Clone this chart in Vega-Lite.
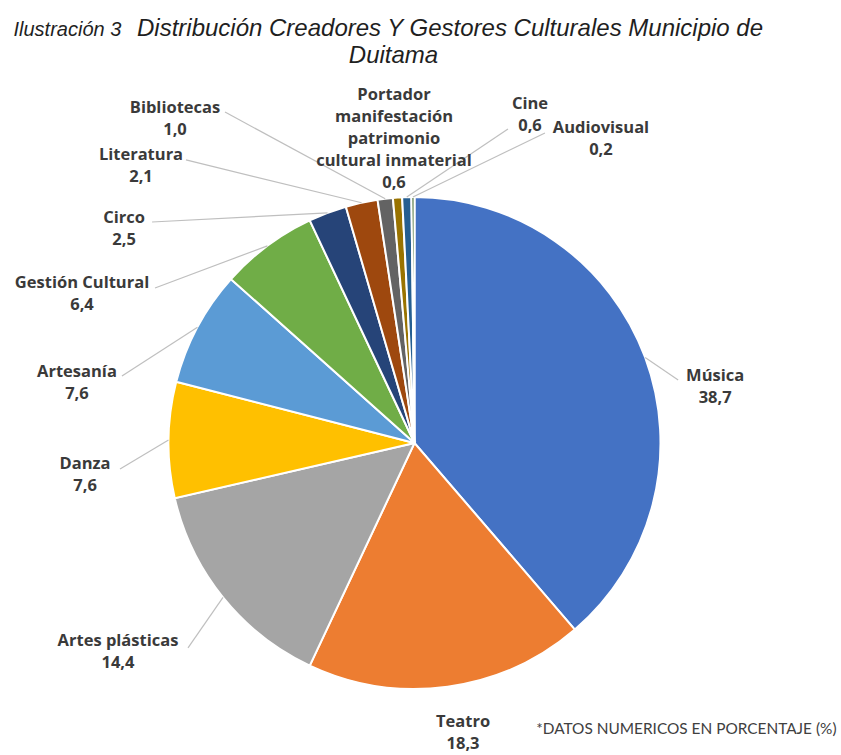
{
  "$schema": "https://vega.github.io/schema/vega-lite/v6.json",
  "width": 829,
  "height": 700,
  "autosize": "none",
  "padding": {"left": 0, "top": 93, "right": 12, "bottom": 0},
  "background": "white",
  "config": {"view": {"stroke": null}},
  "data": {
    "values": [
      {"orden": 1, "categoria": "Música", "valor": 38.7},
      {"orden": 2, "categoria": "Teatro", "valor": 18.3},
      {"orden": 3, "categoria": "Artes plásticas", "valor": 14.4},
      {"orden": 4, "categoria": "Danza", "valor": 7.6},
      {"orden": 5, "categoria": "Artesanía", "valor": 7.6},
      {"orden": 6, "categoria": "Gestión Cultural", "valor": 6.4},
      {"orden": 7, "categoria": "Circo", "valor": 2.5},
      {"orden": 8, "categoria": "Literatura", "valor": 2.1},
      {"orden": 9, "categoria": "Bibliotecas", "valor": 1.0},
      {"orden": 10, "categoria": "Portador\nmanifestación\npatrimonio\ncultural inmaterial", "valor": 0.6},
      {"orden": 11, "categoria": "Cine", "valor": 0.6},
      {"orden": 12, "categoria": "Audiovisual", "valor": 0.2}
    ]
  },
  "transform": [
    {"joinaggregate": [{"op": "sum", "field": "valor", "as": "total"}]},
    {"window": [{"op": "sum", "field": "valor", "as": "acum"}], "sort": [{"field": "orden", "order": "ascending"}], "frame": [null, 0]},
    {"calculate": "(datum.acum - datum.valor / 2) / datum.total * 2 * PI", "as": "medio"},
    {"calculate": "246 * sin(datum.medio)", "as": "ex"},
    {"calculate": "246 * cos(datum.medio)", "as": "ey"},
    {"calculate": "datum.ex + [70, 15.4, -105, -83.5, -120.5, -185.4, -203.5, -220.6, -210.2, -3.5, 123.2, 188][datum.orden - 1]", "as": "lx"},
    {"calculate": "datum.ey + [-18.5, -35.7, -43.5, -24, -44.3, -37.2, -5, 47.8, 90.7, 102.6, 93.1, 69.5][datum.orden - 1]", "as": "ly"},
    {"calculate": "datum.ex + [33, 0, -35, -48.5, -75.5, -112.4, -175.5, -175.6, -160.2, 0, 101.2, 132][datum.orden - 1]", "as": "rx"},
    {"calculate": "datum.ey + [-22.5, 0, -50.5, -29, -48.8, -42.2, -9.1, 42.8, 86.7, 0, 68.1, 64][datum.orden - 1]", "as": "ry"},
    {"calculate": "datum.categoria + '\\n' + replace(format(datum.valor, '.1f'), '.', ',')", "as": "etiqueta"}
  ],
  "layer": [
    {
      "mark": {"type": "arc", "outerRadius": 246, "stroke": "white", "strokeWidth": 2},
      "encoding": {
        "theta": {"field": "valor", "type": "quantitative", "stack": true},
        "order": {"field": "orden", "type": "quantitative"},
        "color": {
          "field": "categoria",
          "type": "nominal",
          "legend": null,
          "scale": {
            "domain": ["Música", "Teatro", "Artes plásticas", "Danza", "Artesanía", "Gestión Cultural", "Circo", "Literatura", "Bibliotecas", "Portador\nmanifestación\npatrimonio\ncultural inmaterial", "Cine", "Audiovisual"],
            "range": ["#4472C4", "#ED7D31", "#A5A5A5", "#FFC000", "#5B9BD5", "#70AD47", "#264478", "#9E480E", "#636363", "#997300", "#255E91", "#43682B"]
          }
        }
      }
    },
    {
      "transform": [{"filter": "datum.orden != 2 && datum.orden != 10"}],
      "mark": {"type": "rule", "color": "#bfbfbf", "strokeWidth": 1.2},
      "encoding": {
        "x": {
          "field": "ex", "type": "quantitative",
          "scale": {"domain": [-414.5, 414.5], "nice": false, "zero": false},
          "axis": {"orient": "bottom", "title": "*DATOS NUMERICOS EN PORCENTAJE (%)", "labels": false, "ticks": false, "domain": false, "grid": false, "titleX": 836, "titleY": -60, "titleAlign": "right", "titleBaseline": "alphabetic", "titleFont": "Lato", "titleFontSize": 15.4, "titleFontWeight": "normal", "titleColor": "#404040"}
        },
        "y": {
          "field": "ey", "type": "quantitative",
          "scale": {"domain": [-350, 350], "nice": false, "zero": false},
          "axis": {"orient": "left", "title": "Ilustración 3", "labels": false, "ticks": false, "domain": false, "grid": false, "titleAngle": 0, "titleX": 13, "titleY": -58, "titleAlign": "left", "titleBaseline": "alphabetic", "titleFont": "Liberation Sans", "titleFontStyle": "italic", "titleFontSize": 20, "titleFontWeight": "normal", "titleColor": "#1f1f1f"}
        },
        "x2": {"field": "rx"},
        "y2": {"field": "ry"}
      }
    },
    {
      "mark": {"type": "text", "align": "center", "baseline": "middle", "lineBreak": "\n", "lineHeight": 22, "font": "Open Sans", "fontSize": 16.5, "fontWeight": "bold", "color": "#3a3a3a"},
      "encoding": {
        "x": {
          "field": "lx", "type": "quantitative",
          "scale": {"domain": [-414.5, 414.5], "nice": false, "zero": false},
          "axis": {"orient": "top", "title": "Distribución Creadores Y Gestores Culturales Municipio de", "labels": false, "ticks": false, "domain": false, "grid": false, "titleX": 449.5, "titleY": -58, "titleAlign": "center", "titleBaseline": "alphabetic", "titleFont": "Liberation Sans", "titleFontStyle": "italic", "titleFontSize": 24, "titleFontWeight": "normal", "titleColor": "#1f1f1f"}
        },
        "y": {
          "field": "ly", "type": "quantitative",
          "scale": {"domain": [-350, 350], "nice": false, "zero": false},
          "axis": {"orient": "right", "title": "Duitama", "labels": false, "ticks": false, "domain": false, "grid": false, "titleAngle": 0, "titleX": -436, "titleY": -31, "titleAlign": "center", "titleBaseline": "alphabetic", "titleFont": "Liberation Sans", "titleFontStyle": "italic", "titleFontSize": 24, "titleFontWeight": "normal", "titleColor": "#1f1f1f"}
        },
        "text": {"field": "etiqueta"}
      }
    }
  ],
  "resolve": {"axis": {"x": "independent", "y": "independent"}}
}
